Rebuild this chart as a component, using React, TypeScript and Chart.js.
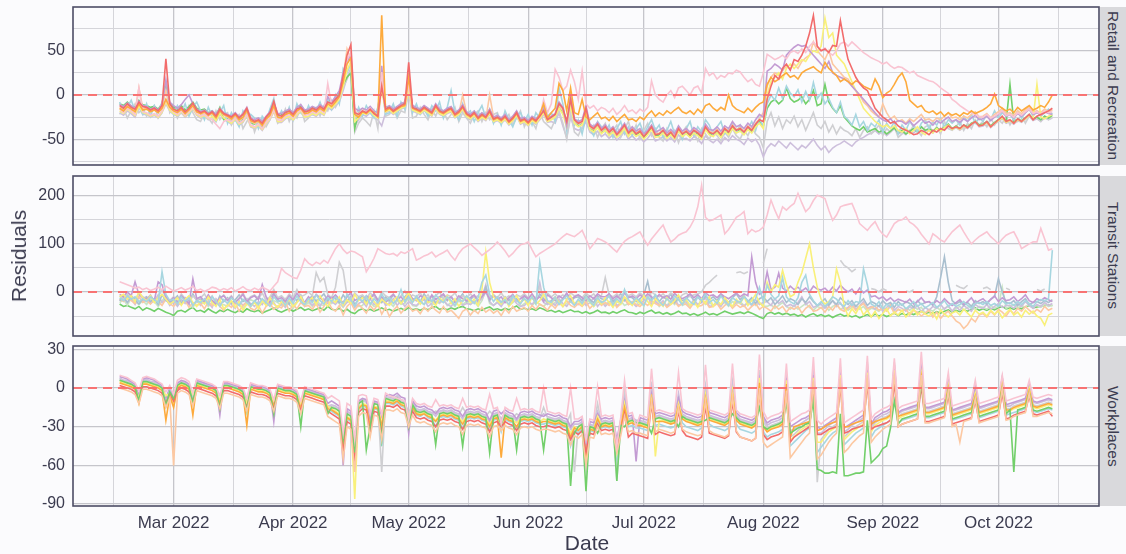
import React, { useEffect, useRef } from "react";
import { Chart, registerables } from "chart.js";
Chart.register(...registerables);

// Day index 0 = 2022-02-15 (daily data through 2022-10-15)
const N_DAYS = 243;
const DAY_INDEX = Array.from({ length: N_DAYS }, (_, i) => i);
const X_MIN = -12.1;
const X_MAX = 254.1;
const MONTH_DAYS = [14, 45, 75, 106, 136, 167, 198, 228];
const MONTH_LABELS = ["Mar 2022", "Apr 2022", "May 2022", "Jun 2022", "Jul 2022", "Aug 2022", "Sep 2022", "Oct 2022"];
const MINOR_DAYS = [-1.5, 29.5, 60, 90.5, 121, 151.5, 182.5, 213, 243.5];

const COLORS = {
  red: "#f26b6b",
  orange: "#fdaa3c",
  green: "#72cf6a",
  purple: "#c39bd3",
  pink: "#f9c4d2",
  lightblue: "#a7d6e0",
  yellow: "#f9f07a",
  peach: "#fcc8a2",
  gray: "#cfcfd2",
  lavender: "#cdbfdc",
  cadet: "#a9bfcf",
  lightgreen: "#c9e5c4",
};

// ---------------- Retail and Recreation ----------------
const RETAIL_RED = [
  -12,-15,-10,-14,-16,-8,-13, -14,-17,-15,-18,-12,41,-10, -16,-18,-14,-19,-15,-9,-17, -20,-18,-22,-19,-24,-16,-21,
  -23,-25,-21,-26,-22,-15,-27, -30,-28,-32,-25,-20,-7,-22, -24,-20,-18,-22,-16,-14,-19, -18,-15,-17,-13,-16,-8,-10,
  -5,0,22,45,57,-20,-22, -18,-20,-16,-21,-24,10,-16, -14,-18,-15,-12,-10,37,-14, -16,-18,-14,-17,-20,-12,-18,
  -20,-17,-15,-22,-19,-13,-21, -24,-20,-26,-22,-25,-18,-27, -25,-28,-24,-30,-26,-20,-29, -27,-31,-26,-29,-24,-18,-28,
  -25,-22,-10,-15,-30,-5,-28, -32,-30,-15,-35,-38,-33,-40, -36,-42,-38,-45,-40,-34,-43, -39,-44,-41,-47,-42,-36,-45,
  -44,-40,-46,-42,-48,-38,-44, -41,-45,-40,-43,-47,-36,-42, -44,-40,-45,-38,-42,-35,-40, -38,-42,-36,-40,-33,-28,-30,
  -5,10,22,18,30,35,28, 40,38,45,55,70,90,55, 50,52,48,56,55,84,60, 40,30,20,13,8,5,-5,
  -15,-20,-25,-28,-32,-30,-35, -38,-40,-42,-45,-44,-40,-42, -45,-40,-42,-38,-40,-35,-38, -36,-38,-34,-37,-33,-30,-35,
  -34,-30,-36,-32,-28,-24,-30, -28,-32,-27,-30,-26,-22,-28, -24,-22,-20,-18,-15,
];
const RETAIL_ORANGE = [
  -15,-18,-13,-16,-19,-10,-17, -16,-19,-17,-20,-15,-5,-14, -18,-20,-16,-21,-17,-12,-19, -21,-19,-23,-20,-26,-18,-22,
  -24,-27,-22,-28,-25,-17,-29, -31,-29,-34,-27,-23,-12,-25, -26,-22,-20,-24,-18,-15,-21, -20,-17,-19,-15,-18,-10,-13,
  -8,-2,15,35,42,-22,-25, -19,-21,-17,-20,-25,90,-18, -15,-19,-16,-13,-12,20,-15, -17,-19,-15,-18,-21,-13,-19,
  -21,-18,-16,-23,-20,-14,-22, -25,-21,-27,-23,-26,-19,-28, -26,-29,-25,-31,-27,-21,-30, -28,-32,-27,-30,-22,-10,-26,
  -20,-15,13,5,-18,8,-20, -22,-5,-25,-28,-24,-20,-27, -25,-29,-24,-30,-26,-22,-28, -27,-30,-25,-28,-22,-18,-24,
  -20,-23,-18,-21,-17,-14,-19, -21,-18,-22,-16,-20,-12,-10, -15,-18,-14,-17,0,-12,-16, -18,-20,-15,-19,-14,-10,-8,
  12,20,15,18,22,25,20, 22,18,25,28,30,32,28, 25,37,30,26,22,15,18, 15,12,16,14,10,8,6,
  18,10,-3,2,5,12,20, 25,15,-6,-10,-14,-12,-18, -20,-18,-22,-19,-24,-20,-23, -21,-24,-20,-22,-18,-21,-19,
  -17,-14,-10,1,-12,-15,-18, -16,-20,-14,-18,-15,-12,-17, -15,-12,-14,-8,0,
];
const RETAIL_GREEN = [
  -10,-12,-8,-13,-14,-6,-11, -12,-14,-13,-16,-10,8,-9, -14,-16,-12,-17,-13,-8,-15, -17,-16,-20,-18,-23,-14,-28,
  -26,-29,-24,-30,-27,-19,-31, -33,-30,-36,-28,-22,-14,-24, -22,-19,-17,-21,-15,-12,-18, -17,-14,-16,-12,-15,-5,-9,
  -4,2,12,20,25,-38,-20, -16,-18,-14,-19,-22,15,-15, -13,-17,-14,-11,-9,12,-13, -15,-17,-13,-16,-19,-11,-17,
  -19,-16,-14,-21,-18,-12,-20, -23,-19,-25,-21,-24,-17,-26, -24,-27,-23,-29,-25,-19,-28, -26,-30,-25,-28,-23,-16,-27,
  -26,-24,-14,-20,-32,-10,-30, -34,-32,-20,-37,-40,-35,-42, -38,-44,-40,-46,-42,-36,-45, -40,-45,-42,-48,-43,-37,-46,
  -45,-41,-47,-43,-49,-39,-45, -42,-46,-41,-44,-48,-37,-43, -45,-41,-46,-39,-43,-36,-41, -39,-43,-37,-41,-34,-30,-35,
  -15,-8,-5,-10,-6,8,-4, -8,-6,-2,-10,-5,5,-12, -10,12,-8,-15,-20,-12,-25, -30,-35,-38,-40,-36,-42,-40,
  -38,-42,-40,-44,-41,-37,-43, -40,-44,-41,-38,-42,-36,-40, -38,-41,-37,-40,-36,-33,-38, -35,-38,-34,-36,-32,-30,-34,
  -33,-30,-35,-31,-28,-25,-30, 12,-31,-27,-29,-26,-22,-27, -25,-28,-24,-26,-23,
];
const RETAIL_PURPLE = [
  -11,-13,-9,-12,-15,-7,-12, -13,-16,-14,-17,-11,17,-8, -12,-15,-11,-5,0,-10,-16, -19,-17,-21,-18,-22,-15,-20,
  -22,-24,-20,-25,-21,-14,-26, -28,-26,-30,-24,-19,-9,-21, -21,-18,-16,-20,-14,-11,-17, -16,-13,-15,-11,-14,-2,-8,
  -2,5,25,38,45,-15,-18, -15,-17,-13,-18,-20,33,-14, -12,-16,-13,-10,-8,15,-12, -14,-16,-12,-15,-18,-10,-16,
  -18,-15,-13,-20,-17,-11,-19, -22,-18,-24,-20,-23,-16,-25, -23,-26,-22,-28,-24,-18,-27, -25,-29,-24,-27,-22,-15,-26,
  -24,-21,-8,-14,-35,-3,-27, -30,-28,-12,-33,-36,-31,-38, -34,-40,-36,-43,-38,-32,-41, -36,-41,-38,-44,-40,-34,-42,
  -40,-37,-43,-39,-44,-35,-41, -38,-42,-37,-40,-44,-33,-39, -40,-36,-41,-35,-38,-30,-36, -34,-38,-32,-36,-28,-22,-25,
  27,30,35,32,28,45,50, 54,57,55,56,50,45,40, 35,30,38,25,22,20,18, 15,10,5,0,-5,-10,-15,
  -20,-25,-28,-30,-27,-32,-29, -30,-33,-29,-35,-31,-27,-32, -30,-34,-29,-32,-28,-25,-30, -28,-31,-27,-30,-26,-23,-28,
  -27,-24,-29,-25,-22,-18,-24, -22,-26,-21,-24,-20,-16,-22, -20,-23,-19,-21,-22,
];
const RETAIL_PINK = [
  -16,-20,-15,-18,-22,8,-19, -20,-23,-21,-24,-18,-5,-15, -19,-22,-18,-23,-19,-14,-21, -24,-22,-26,-28,-33,-38,-30,
  -28,-30,-26,-32,-29,-22,-34, -36,-33,-38,-31,-26,-17,-28, -29,-24,-22,-26,-20,-17,-23, -22,-19,-21,-17,-20,13,-12,
  -7,-3,18,40,48,-18,-21, -17,-19,-15,-20,-23,26,-17, -15,-19,-16,-13,-11,10,-15, -17,-19,-15,-18,-21,-13,-19,
  -21,-18,-16,-23,-20,-14,-22, -25,-21,-27,-23,-26,-19,-28, -26,-29,-25,-31,-27,-21,-30, -28,-32,-27,-30,-25,-5,-20,
  -10,29,20,5,10,28,15, -5,27,-10,-15,-12,-18,-14, -16,-20,-15,-22,-18,-12,-19, -17,-21,-16,-19,-14,16,0,
  -5,-8,0,5,-3,8,10, 5,0,8,10,2,30,22, 25,18,22,20,25,24,28, 26,20,15,18,12,10,25,
  46,43,40,42,45,41,48, 50,47,52,48,55,60,55, 50,53,48,45,50,58,60, 55,60,56,52,48,45,42,
  40,38,35,37,33,30,32, 31,28,25,27,22,20,18, 16,15,12,8,5,2,-5, -8,-12,-15,-18,-20,-22,-24,
  -25,-22,-26,-24,-21,-18,-23, -22,-25,-20,-23,-19,-16,-21, -19,-22,-18,-20,-19,
];
const RETAIL_YELLOW = [
  -18,-21,-16,-19,-23,-12,-20, -21,-24,-22,-25,-19,-8,-17, -21,-23,-19,-24,-20,-15,-22, -25,-23,-27,-24,-29,-21,-26,
  -29,-32,-27,-33,-30,-23,-35, -37,-34,-39,-32,-27,-18,-30, -30,-26,-24,-28,-22,-18,-25, -24,-21,-23,-19,-22,-12,-15,
  -10,-5,10,28,38,-30,-26, -20,-22,-18,-23,-26,8,-19, -17,-21,-18,-15,-13,5,-17, -19,-21,-17,-20,-23,-15,-21,
  -23,-20,-18,-25,-22,-16,-24, -27,-23,-29,-25,-28,-21,-30, -28,-31,-27,-33,-29,-23,-32, -30,-34,-29,-32,-27,-20,-30,
  -28,-25,-15,-22,-36,-12,-32, -36,-34,-22,-39,-42,-37,-44, -40,-46,-42,-48,-44,-38,-47, -42,-47,-44,-50,-45,-39,-48,
  -47,-43,-49,-45,-50,-41,-47, -44,-48,-43,-46,-50,-39,-45, -47,-43,-48,-41,-45,-38,-43, -41,-45,-39,-43,-36,-32,-38,
  0,15,20,25,18,30,35, 30,35,40,38,45,50,48, 55,87,65,70,45,40,35, 25,15,5,-5,-15,-20,-25,
  -30,-33,-36,-34,-38,-35,-40, -42,-38,-44,-40,-36,-42,-45, -40,-43,-38,-41,-37,-34,-39, -36,-39,-35,-37,-33,-30,-35,
  -34,-31,-36,-32,-29,-26,-31, -29,-32,-28,-30,-27,-23,-27, 12,-25,-27,-24,-22,
];
const RETAIL_PEACH = [
  -14,-17,-12,-15,-18,8,-15, -15,-18,-16,-19,-13,5,-12, -17,-19,-15,-20,-16,-11,-18, -22,-20,-24,-21,-25,-17,-23,
  -25,-28,-23,-29,-26,-18,-30, -32,-30,-35,-28,-24,-13,-26, -27,-23,-21,-25,-19,-16,-22, -21,-18,-20,-16,-19,-9,-11,
  -6,0,20,52,40,-25,-23, -18,-20,-16,-21,-24,18,-17, -16,-20,-17,-14,-12,8,-16, -18,-20,-16,-19,-22,-14,-20,
  -22,-19,-17,-24,-21,0,-20, -26,-22,-28,-24,-27,0,-25, -27,-30,-26,-32,-28,-22,-31, -29,-33,-28,-31,-26,-19,-29,
  -27,-24,-12,-18,-30,-8,-29, -33,-31,-17,-36,-39,-34,-41, -37,-43,-39,-46,-41,-35,-44, -38,-43,-40,-45,-41,-35,-44,
  -43,-39,-45,-41,-46,-37,-43, -40,-44,-39,-42,-46,-35,-41, -43,-39,-44,-37,-41,-34,-39, -37,-41,-35,-39,-32,-27,-20,
  10,20,25,22,28,32,30, 35,30,38,42,45,60,50, 45,40,50,35,30,25,20, 18,10,5,0,-8,-12,-18,
  -22,-25,-10,-20,-27,-24,-30, -28,-32,-27,-30,-26,-22,-28, -27,-30,-26,-28,-24,-20,-26, -25,-28,-24,-26,-22,-19,-25,
  -24,-21,-26,-22,-19,-15,-21, -20,-23,-18,-21,-17,-13,-19, -18,-20,-16,-19,-17,
];
const RETAIL_LAVENDER = [
  -20,-23,-18,-21,-25,-14,-22, -22,-25,-23,-26,-20,-10,-18, -22,-24,-20,-25,-21,-16,-23, -26,-24,-28,-25,-30,-22,-27,
  -30,-33,-28,-34,-31,-24,-36, -38,-35,-40,-33,-28,-19,-31, -31,-27,-25,-29,-23,-19,-26, -25,-22,-24,-20,-23,-14,-17,
  -12,-8,5,20,30,-35,-28, -22,-24,-20,-25,-28,-35,-20, -18,-22,-19,-16,-14,2,-18, -20,-22,-18,-21,-24,-16,-22,
  -24,-21,-19,-26,-23,-17,-25, -28,-24,-30,-26,-29,-22,-31, -29,-32,-28,-34,-30,-24,-33, -31,-35,-30,-33,-28,-22,-31,
  -30,-32,-20,-35,-48,-25,-38, -40,-38,-30,-42,-45,-41,-47, -44,-49,-45,-51,-47,-41,-50, -46,-51,-48,-53,-49,-43,-52,
  -50,-47,-52,-48,-53,-45,-50, -49,-52,-47,-50,-55,-46,-51, -54,-50,-55,-48,-52,-46,-50, -52,-56,-49,-53,-50,-57,-70,
  -60,-55,-58,-52,-56,-60,-54, -58,-62,-57,-60,-55,-50,-57, -62,-58,-65,-60,-57,-55,-52, -55,-58,-53,-50,-48,-45,-43,
  -40,-44,-41,-46,-42,-38,-44, -42,-45,-40,-43,-39,-36,-41, -40,-43,-38,-41,-37,-34,-39, -37,-40,-36,-38,-34,-31,-36,
  -35,-32,-37,-33,-30,-27,-32, -30,-33,-29,-31,-28,-24,-29, -27,-30,-26,-28,-26,
];
const RETAIL_LIGHTBLUE = [
  -8,-20,-14,-6,-18,-12,-22, -10,-24,-12,-20,-8,6,-16, -22,-12,-20,-10,-24,-14,-8, -18,-28,-14,-24,-30,-20,-12,
  -32,-20,-28,-36,-18,-26,-22, -26,-38,-24,-30,-16,-4,-28, -18,-26,-14,-28,-10,-20,-24, -12,-22,-18,-8,-20,-4,-16,
  0,-10,30,25,35,-28,-14, -24,-12,-20,-26,-14,12,-22, -20,-10,-24,-8,-16,18,-20, -10,-22,-16,-24,-12,-18,-8,
  -26,-14,5,-20,-28,-10,-22, -18,-30,-20,-12,-26,-16,-32, -22,-34,-18,-28,-36,-24,-20, -30,-22,-34,-20,-26,-12,-24,
  -20,-30,8,-10,-40,0,-34, -28,-44,-24,-38,-46,-30,-36, -42,-34,-48,-38,-30,-44,-36, -46,-38,-32,-44,-36,-28,-40,
  -34,-48,-40,-30,-44,-36,-50, -38,-30,-46,-36,-42,-28,-34, -46,-36,-30,-44,-38,-32,-42, -34,-44,-38,-30,-40,-26,-36,
  -10,0,-6,8,-4,10,2, -2,6,-8,4,-6,14,-4, 2,-10,-4,-14,-20,-8,-24, -28,-34,-22,-36,-30,-40,-32,
  -36,-28,-42,-32,-38,-30,-44, -34,-40,-30,-36,-42,-32,-28, -38,-30,-34,-26,-36,-28,-32, -28,-34,-24,-30,-22,-32,-26,
  -30,-22,-28,-18,-26,-20,-24, -22,-28,-18,-26,-20,-16,-24, -18,-24,-20,-16,-22,
];
const RETAIL_GRAY = [
  -22,-14,-26,-18,-10,-20,-16, -24,-18,-12,-26,-20,14,-20, -14,-26,-18,-22,-12,-20,-28, -30,-20,-26,-32,-18,-28,-22,
  -20,-34,-26,-22,-38,-30,-24, -42,-30,-26,-36,-28,-10,-32, -28,-16,-30,-20,-26,-12,-30, -26,-18,-14,-24,-12,-18,-6,
  -14,-6,8,18,28,-42,-32, -26,-30,-35,-18,-38,20,-24, -22,-14,-26,-18,-20,4,-26, -24,-14,-22,-28,-16,-24,-14,
  -18,-28,-22,-14,-30,-20,-26, -32,-22,-18,-30,-20,-28,-22, -20,-32,-28,-22,-34,-26,-18, -36,-26,-30,-38,-20,-30,-34,
  -38,-28,-18,-32,-50,-20,-42, -46,-36,-28,-40,-34,-48,-38, -32,-46,-40,-34,-48,-38,-30, -44,-34,-50,-40,-32,-46,-38,
  -48,-52,-38,-46,-40,-54,-42, -36,-48,-42,-52,-38,-44,-50, -40,-46,-52,-42,-48,-38,-46, -50,-40,-46,-36,-44,-48,-60,
  -30,-20,-35,-25,-38,-28,-32, -24,-36,-28,-40,-30,-20,-34, -38,-30,-42,-34,-44,-36,-40, -42,-46,-38,-48,-40,-36,-44,
  -40,-34,-46,-38,-42,-36,-48, -44,-38,-42,-34,-40,-46,-36, -34,-42,-36,-44,-30,-38,-40, -36,-30,-40,-32,-38,-28,-34,
  -30,-36,-26,-34,-28,-32,-24, -34,-26,-30,-22,-32,-24,-28, -26,-30,-24,-28,-25,
];

// ---------------- Transit Stations ----------------
const TRANSIT_PINK = [
  21,18,15,12,8,10,5, 8,3,6,10,4,12,7, 2,5,9,4,7,12,3, 6,1,5,10,8,3,7,
  4,9,2,6,11,5,3, 8,4,10,6,2,12,21, 49,40,35,30,28,45,69, 60,55,62,58,66,60,75,
  90,100,88,80,85,83,78, 73,42,55,70,90,85,80, 78,80,75,83,80,85,90, 66,70,75,78,83,73,78,
  82,87,75,66,80,90,95, 100,92,85,76,82,88,95, 104,95,85,73,80,90,98, 100,104,88,73,80,85,90,
  95,100,108,115,121,118,115, 121,128,110,90,100,111,108, 104,98,90,83,95,105,111, 115,120,125,110,97,110,120,
  130,139,120,104,110,118,122, 125,135,150,177,222,155,148, 150,155,160,121,130,142,155, 160,167,121,130,125,128,135,
  160,191,170,152,177,170,178, 184,205,185,167,175,190,201, 198,194,170,149,160,177,180, 182,184,165,142,135,128,138,
  146,130,120,114,128,142,148, 150,156,145,140,132,120,110, 100,121,115,108,104,115,125, 132,139,125,112,100,108,115,
  120,125,115,108,100,110,118, 122,125,110,90,95,100,104, 104,132,110,87,90,
];
const TRANSIT_GREEN = [
  -25,-30,-28,-32,-35,-30,-38, -33,-36,-40,-34,-38,-42,-45, -49,-40,-38,-42,-36,-32,-40, -38,-42,-35,-40,-44,-38,-41,
  -36,-40,-43,-38,-42,-35,-39, -41,-38,-44,-40,-37,-33,-39, -42,-38,-35,-40,-36,-32,-38, -35,-39,-36,-33,-38,-30,-36,
  -38,-34,-40,-36,-42,-45,-38, -35,-39,-36,-40,-37,-33,-38, -36,-40,-37,-34,-38,-32,-37, -35,-38,-34,-37,-33,-30,-36,
  -34,-37,-33,-36,-32,-30,-35, -36,-39,-35,-38,-34,-31,-37, -35,-38,-34,-37,-33,-29,-36, -34,-37,-35,-38,-33,-36,-40,
  -38,-42,-39,-43,-40,-37,-41, -40,-44,-41,-45,-42,-38,-43, -42,-45,-41,-44,-40,-37,-42, -43,-46,-42,-45,-41,-38,-44,
  -42,-46,-43,-47,-44,-40,-45, -44,-48,-45,-49,-46,-42,-47, -45,-48,-44,-40,-43,-46,-44, -42,-45,-41,-44,-48,-52,-55,
  -45,-42,-46,-43,-47,-44,-48, -46,-50,-47,-52,-48,-45,-50, -47,-51,-48,-53,-49,-46,-50, -48,-52,-49,-54,-50,-47,-51,
  -46,-50,-47,-51,-48,-44,-49, -45,-48,-44,-47,-43,-40,-45, -42,-45,-41,-44,-40,-37,-42, -38,-41,-37,-40,-36,-33,-38,
  -35,-38,-34,-37,-33,-30,-35, -33,-36,-32,-35,-31,-28,-33, -31,-30,-28,-27,-28,
];
const TRANSIT_PEACH = [
  -15,-20,-12,-18,-24,-10,-22, -18,-25,-14,-20,-28,-15,-24, -30,-20,-26,-18,-32,-22,-28, -24,-35,-20,-28,-18,-30,-38,
  -26,-32,-22,-40,-28,-20,-34, -38,-28,-44,-30,-24,-36,-29, -33,-20,-40,-26,-35,-22,-30, -28,-36,-24,-42,-30,-18,-34,
  -40,-28,-48,-30,-22,-38,-26, -34,-44,-28,-38,-25,-46,-32, -51,-38,-30,-44,-35,-28,-40, -36,-45,-32,-40,-30,-38,-44,
  -30,-42,-38,-46,-55,-40,-35, -48,-38,-45,-32,-42,-36,-44, -38,-49,-35,-44,-30,-40,-36, -32,-40,-28,-36,-25,-30,-38,
  -26,-34,-22,-30,-18,-28,-32, -24,-30,-20,-34,-26,-16,-28, -22,-28,-18,-32,-24,-14,-26, -20,-26,-30,-22,-28,-18,-24,
  -28,-22,-32,-26,-20,-30,-24, -26,-34,-22,-30,-28,-20,-32, -30,-24,-36,-28,-22,-34,-26, -32,-28,-38,-30,-24,-36,-30,
  -34,-40,-28,-36,-30,-42,-32, -36,-30,-44,-34,-28,-40,-38, -32,-42,-30,-38,-26,-36,-40, -34,-28,-38,-30,-24,-36,-32,
  -30,-38,-34,-40,-28,-45,-36, -40,-35,-48,-38,-42,-50,-44, -38,-52,-42,-55,-46,-40,-50, -60,-65,-76,-68,-55,-62,-48,
  -45,-52,-40,-48,-36,-42,-50, -38,-45,-34,-40,-30,-38,-44, -36,-42,-30,-38,-34,
];
const TRANSIT_YELLOW = [
  -10,-5,-15,-8,-20,0,-12, -18,-8,-22,-12,-5,-15,-25, -20,-12,-28,-15,-8,-22,-30, -18,-25,-10,-22,-30,-15,-35,
  -28,-18,-32,-20,-38,-25,-30, -22,-34,-18,-28,-12,-25,-32, -20,-28,-15,-30,-22,-10,-25, -18,-12,-26,-8,-20,-30,-15,
  -22,-10,-28,-16,-24,-5,-18, -12,-25,-8,-20,-30,-15,-22, -28,-18,-10,-24,-14,-2,-20, -15,-25,-10,-22,-18,-28,-12,
  -20,-8,-24,-14,-30,-18,-10, -22,-15,-28,5,83,20,-10, -18,-25,-12,-30,-20,-8,-22, -15,-28,-10,-25,-18,-5,-20,
  -25,-12,-22,-30,-15,-8,-24, -18,-28,-10,-22,-30,-16,-25, -12,-22,-32,-18,-26,-10,-20, -28,-15,-25,-8,-20,-30,-14,
  -22,-30,-12,-26,-18,-6,-24, -16,-28,-20,-32,-14,-24,-10, -30,-18,-26,-12,-22,-30,-15, -24,-10,-28,-18,-5,-22,-30,
  20,0,15,10,45,15,-10, -5,20,40,70,100,50,10, -15,-25,-20,-10,48,20,-30, -50,-35,-45,-30,-48,-38,-52,
  -40,-55,-45,-35,-50,-42,-48, -38,-52,-44,-36,-48,-40,-46, -50,-42,-56,-38,-46,-52,-44, -40,-48,-36,-44,-52,-38,-46,
  -42,-50,-38,-46,-40,-54,-44, -36,-48,-42,-52,-38,-46,-40, -50,-55,-69,-48,-44,
];
const TRANSIT_LIGHTBLUE = [
  -12,-18,-8,-15,-10,-20,-14, -20,-10,-16,-22,42,-5,-18, -15,-25,-10,-20,-12,-28,-18, -22,-14,-26,-10,-20,-30,-16,
  -24,-12,-20,-28,-15,-22,-30, -18,-26,-14,-22,-30,-10,-20, -16,-28,-12,-24,-8,-20,-26, -14,-22,-6,-18,-25,-12,-20,
  -10,-18,-24,-5,-16,-30,-12, -20,-8,-26,-14,-22,-4,-18, -12,-24,-16,5,-20,-10,-22, -8,-18,-26,-12,-20,-6,-16,
  -22,-10,-18,-28,-14,-20,-8, -16,-24,-12,20,35,-5,-20, -10,-22,-16,-26,-8,-18,-24, -14,-20,-10,-25,62,10,-18,
  -22,-12,-26,-16,-8,-20,-28, -15,-24,-10,-20,-28,-12,-22, -18,-8,-26,-14,-22,5,-16, -24,-12,-20,-28,-10,-18,-6,
  -20,-28,-14,-22,-8,-16,-26, -12,-20,-26,-10,-18,-4,-22, -16,-24,-8,-20,-28,-12,-18, -22,-10,-18,-26,-14,10,-20,
  14,-5,-15,-8,30,-10,-20, -25,-12,20,35,-5,-18,-28, -20,-30,-22,-10,-15,-25,-30, -18,-28,-20,-22,48,15,-25,
  -30,-20,-35,-25,-32,-22,-28, -25,-35,-28,-20,-30,-24,-33, -28,-22,-32,-26,-18,-30,-24, -30,-26,-20,-28,-34,-24,-22,
  -26,-20,-28,-24,-30,-18,-25, -22,-28,-20,-26,-18,-24,-30, -20,-16,-18,-14,87,
];
const TRANSIT_PURPLE = [
  -5,-10,0,-8,21,-5,-12, -15,-8,-18,21,15,-10,-20, -12,-22,-8,-15,-25,27,-14, -10,-20,-6,-18,-25,-12,-8,
  -18,-10,-22,-14,-5,-20,-12, -8,-16,15,-10,-22,-5,-15, -12,-20,-8,-16,-3,-14,-22, -10,-18,-5,-12,-20,-8,-14,
  -6,-15,-22,-10,-2,-18,-12, -20,-8,-14,-4,-18,-10,-22, -12,-5,-16,-10,-20,-2,-14, -18,-8,-12,-22,-6,-15,-10,
  -4,-16,-10,-20,-8,-14,-18, -12,-6,-18,-10,0,-15,-8, -16,-10,-22,-12,-5,-18,-14, -8,-14,-4,-16,-10,-20,-6,
  -12,-18,-8,-14,-2,-16,-10, -6,-12,-18,-8,-14,-4,-10, -10,-4,-14,-8,-16,-2,-12, -8,-14,-6,-12,-4,-10,-16,
  -5,-12,-8,-15,-3,-10,-14, -10,-4,-12,-6,-14,-2,-8, -6,-12,-4,-10,-14,-8,-2, -10,-4,-8,73,20,-5,0,
  42,5,10,39,8,2,12, 5,10,2,8,0,12,6, 4,8,0,10,2,14,6, 0,6,-4,8,-2,4,-10,
  -8,-14,-10,-18,-12,-20,-15, -18,-22,-15,-25,-20,-12,-22, -20,-26,-18,-24,-14,-22,-28, -22,-16,-26,-20,-12,-24,-18,
  -14,-22,-16,-8,-20,-12,-18, -16,-10,-20,-14,-6,-18,-22, -14,-18,-12,-16,-20,
];
const TRANSIT_GRAY = [
  -8,-14,-5,-12,-18,-2,-10, -15,-6,-20,-10,5,-12,-18, -10,-20,-4,-14,-22,-8,-16, -12,-4,-18,-8,-22,-14,-6,
  -16,-8,-20,-12,-2,-18,-10, -6,-14,-2,-18,-10,5,-12, -8,-16,-4,-12,5,-10,-6, 0,-8,40,21,30,-5,-12,
  10,62,45,-8,-15,-2,-10, -6,-14,-2,-10,-18,0,-8, -12,-4,-16,-8,2,-14,-6, -10,-2,-14,-6,-18,-8,0,
  -14,-6,-10,-2,-16,-8,-12, -4,-12,-8,-16,0,-10,-6, -12,-2,-14,-8,-18,-6,-10, -4,-12,-6,-14,10,-8,-2,
  -10,-4,-12,-6,-16,-2,-8, -6,-12,-2,-10,-4,-14,-8, 30,-6,-10,-4,-12,0,-8, -4,-10,-2,-8,-14,0,-6,
  -10,-4,-12,-2,-8,-14,-6, -2,-10,-6,-4,0,14,20, 28,35,null,null,null,null,40, 42,38,42,null,null,null,60,
  90,null,null,null,null,null,null, null,null,null,null,null,null,null, null,null,null,null,null,66,55, 50,42,48,null,null,null,7,
  5,0,7,3,null,null,null, null,2,0,5,null,null,null, null,null,null,null,null,null,null, 14,10,7,14,null,null,null,
  7,10,5,null,null,null,8, 4,null,null,null,null,null,null, 5,2,6,null,null,
];
const TRANSIT_CADET = [
  -18,-12,-22,-8,-16,-25,-14, -10,-20,-14,-26,-6,-18,-22, -16,-8,-24,-12,-20,-4,-18, -14,-22,-10,-18,-26,-8,-20,
  -12,-24,-16,-6,-20,-14,-28, -20,-10,-18,-24,-12,-2,-16, -22,-14,-26,-10,-18,-6,-24, -16,-8,-20,-12,-4,-18,-10,
  -14,-22,-6,-18,-10,-26,-16, -8,-20,-12,-4,-16,-22,-10, -18,-6,-14,-22,-10,-2,-16, -12,-20,-4,-16,-8,-24,-14,
  -6,-18,-10,-22,-14,-4,-20, -16,-8,-20,-12,10,-18,-6, -14,-22,-10,-18,-6,-16,-24, -8,-16,-12,-20,-4,-14,-22,
  -18,-10,-24,-14,-6,-20,-12, -10,-18,-6,-16,-22,-8,-14, -16,-8,-20,-12,-4,-18,-10, -12,-20,-14,-6,22,-16,-8,
  -20,-10,-16,-4,-22,-12,-18, -14,-6,-18,-10,-20,-8,-16, -10,-18,-6,-14,-22,-12,-4, -16,-8,-20,-12,-24,-14,-10,
  -20,-12,-26,-18,-8,-22,-14, -18,-26,-14,-22,-10,-20,-28, -22,-14,-28,-18,-26,-12,-20, -26,-18,-30,-22,-14,-28,-20,
  -24,-30,-18,-26,-22,-32,-20, -28,-20,-24,-32,-18,-26,-22, -20,-28,-10,30,73,20,-18, -25,-20,-28,-22,-30,-18,-24,
  -20,-26,-15,-10,28,0,-22, -24,-18,-28,-20,-14,-26,-22, -20,-24,-18,-22,-16,
];
const TRANSIT_LAVENDER = [
  -18,-8,-22,-14,-26,-10,-20, -12,-24,-18,-6,-22,-14,-28, -20,-30,-16,-24,-12,-26,-18, -28,-16,-22,-32,-14,-24,-20,
  -14,-26,-34,-18,-28,-20,-24, -30,-20,-26,-14,-28,-22,-34, -24,-32,-18,-28,-20,-12,-26, -18,-28,-22,-30,-14,-24,-20,
  -26,-16,-30,-22,-18,-32,-24, -20,-30,-14,-26,-22,-12,-28, -24,-14,-28,-18,-30,-20,-26, -28,-20,-16,-30,-24,-14,-22,
  -18,-26,-30,-20,-14,-28,-24, -26,-18,-24,-10,15,-20,-28, -22,-30,-18,-26,-14,-24,-30, -28,-20,-26,-16,20,-22,-26,
  -20,-28,-14,-24,-30,-18,-24, -26,-16,-28,-22,-12,-30,-20, -30,-22,-16,-28,-24,-14,-26, -22,-30,-24,-18,-8,-26,-20,
  -26,-18,-30,-22,-14,-28,-24, -20,-28,-16,-26,-22,-12,-30, -28,-22,-30,-18,-24,-32,-20, -24,-30,-20,-28,-16,-26,-22,
  -20,-28,-14,-24,-18,-30,-26, -30,-22,-10,-26,-20,-32,-28, -26,-34,-24,-18,-30,-22,-36, -32,-24,-36,-28,-20,-34,-30,
  -36,-28,-40,-32,-26,-38,-30, -34,-40,-30,-36,-28,-42,-32, -38,-30,-34,-26,-36,-28,-40, -30,-38,-28,-34,-40,-26,-32,
  -34,-26,-36,-30,-24,-32,-28, -28,-34,-24,-30,-20,-28,-34, -26,-30,-22,-28,-24,
];
const TRANSIT_LIGHTGREEN = [
  -22,-16,-28,-12,-20,-26,-18, -26,-14,-20,-30,-18,-10,-24, -16,-28,-22,-14,-26,-32,-20, -24,-18,-30,-22,-16,-28,-26,
  -30,-22,-18,-28,-34,-24,-16, -20,-30,-24,-16,-28,-18,-22, -28,-18,-26,-34,-22,-14,-30, -22,-30,-16,-26,-28,-20,-24,
  -18,-24,-32,-20,-14,-26,-30, -28,-16,-22,-30,-26,-18,-14, -22,-30,-18,-26,-24,-12,-28, -30,-22,-26,-16,-28,-20,-24,
  -14,-28,-22,-30,-18,-26,-20, -26,-20,-30,-18,5,-24,-28, -20,-26,-16,-28,-22,-14,-30, -24,-18,-28,-20,-26,-30,-22,
  -28,-22,-18,-30,-24,-16,-26, -18,-28,-24,-14,-30,-22,-20, -26,-20,-30,-22,-18,-28,-24, -22,-28,-16,-30,-10,-24,-18,
  -30,-22,-28,-18,-26,-14,-28, -24,-30,-20,-28,-16,-26,-22, -28,-18,-26,-22,-30,-20,-24, -20,-28,-24,-16,-28,-22,-30,
  -30,-26,-34,-28,-22,-30,-36, -28,-36,-30,-24,-32,-38,-30, -34,-28,-38,-30,-26,-36,-32, -38,-32,-28,-36,-30,-40,-34,
  -36,-40,-32,-38,-30,-42,-36, -40,-34,-38,-30,-36,-32,-44, -36,-40,-32,-38,-34,-30,-40, -34,-30,-38,-32,-28,-36,-30,
  -32,-36,-28,-34,-30,10,-34, -30,-26,-34,-28,-32,-24,-30, -28,-32,-26,-30,-28,
];

// ---------------- Workplaces ----------------
const WORK_PINK = [
  10,9,8,6,4,-2,8, 9,8,7,5,3,-3,2, -5,6,8,7,5,-4,7, 6,5,4,3,1,-6,5,
  5,4,3,2,0,-8,4, 3,2,2,1,-1,-9,3, 2,1,1,0,-2,-10,1, 0,-1,-2,-3,-4,-8,-6,
  -8,-10,-35,-12,-14,-40,-6, -5,-6,-20,-8,-9,-20,-4, -6,-7,-8,-9,-10,-25,-8, -12,-13,-12,-14,-15,-9,-14,
  -13,-14,-13,-15,-16,-8,-15, -14,-15,-14,-16,-17,-5,-16, -15,-28,-15,-17,-18,-8,-17, -16,-17,-16,-18,-19,0,-18,
  -19,-20,-19,-21,-22,0,-24, -24,-22,-40,-24,-25,1,-22, -21,-22,-21,-45,-23,6,-20, -19,-30,-21,-22,-23,15,-18,
  -17,-18,-19,-20,-19,12,-16, -18,-19,-20,-21,-20,18,-17, -18,-19,-20,-21,-19,19,-17, -20,-21,-22,-23,-21,26,-18,
  -24,-22,-21,-20,-18,19,-26, -24,-22,-20,-19,-17,24,-25, -28,-25,-23,-21,-19,23,-27, -25,-23,-21,-19,-17,25,-24,
  -20,-18,-16,-15,-13,23,-16, -14,-13,-12,-11,-10,28,-12, -12,-11,-10,-9,-8,12,-14, -13,-12,-11,-10,-9,6,-12,
  -11,-10,-9,-8,-7,10,-10, -9,-8,-7,-6,-5,6,-7, -8,-7,-6,-5,-6,
];
const WORK_PURPLE = [
  9,8,7,5,3,-6,7, 8,7,6,4,2,-8,0, -8,4,6,5,3,-5,6, 5,4,3,2,0,-21,4,
  4,3,2,1,-1,-10,3, 2,1,1,0,-2,-26,2, 1,0,0,-1,-3,-12,0, -1,-2,-3,-4,-5,-12,-10,
  -12,-14,-60,-16,-18,-55,-10, -8,-9,-25,-10,-11,-22,-6, -5,-6,-4,-7,-8,-35,-10, -14,-15,-14,-16,-17,-20,-16,
  -15,-16,-15,-17,-18,-22,-17, -16,-17,-16,-18,-19,-25,-18, -17,-20,-17,-19,-20,-24,-19, -18,-19,-18,-20,-21,-22,-20,
  -21,-22,-21,-23,-24,-30,-26, -26,-24,-45,-26,-27,-20,-24, -23,-24,-23,-40,-25,-10,-22, -21,-57,-23,-24,-25,-5,-20,
  -19,-20,-21,-22,-21,-8,-18, -20,-21,-22,-23,-22,-5,-19, -20,-21,-22,-23,-21,-3,-19, -22,-23,-24,-25,-23,5,-22,
  -27,-25,-24,-23,-21,8,-30, -28,-26,-24,-23,-21,10,-30, -32,-29,-27,-25,-23,12,-31, -29,-27,-25,-23,-21,14,-28,
  -23,-21,-19,-18,-16,18,-19, -17,-16,-15,-14,-13,15,-15, -15,-14,-13,-12,-11,5,-17, -16,-15,-14,-13,-12,0,-15,
  -14,-13,-12,-11,-10,8,-13, -12,-11,-10,-9,-8,2,-10, -11,-10,-9,-8,-9,
];
const WORK_GRAY = [
  7,6,5,4,2,-10,6, 6,5,4,3,1,-10,-2, -10,3,5,4,2,-8,5, 4,3,2,1,-1,-12,3,
  3,2,1,0,-2,-14,2, 1,0,0,-1,-3,-12,1, 0,-1,-1,-2,-4,-14,-1, -2,-3,-4,-5,-6,-15,-14,
  -15,-17,-45,-19,-21,-60,-12, -10,-11,-30,-12,-13,-65,-8, -8,-9,-7,-10,-11,-20,-12, -17,-18,-17,-19,-20,-18,-19,
  -18,-19,-18,-20,-21,-15,-20, -19,-20,-19,-21,-22,-18,-21, -20,-24,-20,-22,-23,-20,-22, -21,-22,-21,-23,-24,-15,-23,
  -24,-25,-24,-26,-27,-20,-65, -30,-27,-50,-29,-30,-12,-27, -26,-27,-26,-72,-28,-2,-25, -24,-26,-26,-27,-28,5,-23,
  -22,-23,-24,-25,-24,-8,-21, -23,-24,-25,-26,-25,2,-22, -23,-24,-25,-26,-24,5,-22, -25,-26,-27,-28,-26,14,-26,
  -31,-29,-28,-27,-25,12,-38, -36,-33,-30,-28,-26,15,-73, -40,-36,-32,-30,-28,16,-38, -35,-32,-30,-28,-26,20,-32,
  -27,-25,-23,-22,-20,20,-22, -20,-19,-18,-17,-16,16,-18, -18,-17,-16,-15,-14,8,-20, -19,-18,-17,-16,-15,2,-18,
  -17,-16,-15,-14,-13,8,-16, -16,-14,-13,-12,-11,3,-13, -14,-13,-12,-11,-12,
];
const WORK_YELLOW = [
  5,4,3,2,0,-8,4, 4,3,2,1,-1,-6,-4, -12,1,3,2,0,-5,3, 2,1,0,-1,-3,-10,1,
  1,0,-1,-2,-4,-12,0, -1,-2,-2,-3,-5,-10,-1, -2,-3,-3,-4,-6,-12,-3, -4,-5,-6,-7,-8,-14,-16,
  -18,-20,-50,-22,-24,-86,-15, -12,-13,-35,-14,-15,-28,-10, -10,-11,-9,-12,-13,-22,-14, -19,-20,-19,-21,-22,-25,-21,
  -20,-21,-20,-22,-23,-26,-22, -21,-22,-21,-23,-24,-28,-23, -22,-30,-22,-24,-25,-27,-24, -23,-24,-23,-25,-26,-24,-25,
  -26,-27,-26,-28,-29,-35,-30, -32,-29,-55,-31,-32,-22,-29, -28,-29,-28,-50,-30,-12,-27, -26,-28,-28,-29,-30,-5,-53,
  -25,-25,-26,-27,-26,-12,-23, -25,-26,-27,-28,-27,-5,-24, -25,-26,-27,-28,-26,-2,-24, -27,-28,-29,-30,-28,8,-29,
  -33,-31,-30,-29,-27,6,-40, -38,-35,-32,-30,-28,8,-42, -42,-38,-34,-32,-30,10,-40, -37,-34,-32,-30,-28,12,-34,
  -29,-27,-25,-24,-22,14,-24, -22,-21,-20,-19,-18,10,-20, -20,-19,-18,-17,-16,2,-22, -21,-20,-19,-18,-17,-4,-20,
  -19,-18,-17,-16,-15,4,-18, -18,-16,-15,-14,-13,0,-15, -16,-15,-14,-13,-14,
];
const WORK_ORANGE = [
  4,3,2,1,-1,-12,3, 3,2,1,0,-2,-25,-6, -15,0,2,1,-1,-21,2, 1,0,-1,-2,-4,-12,0,
  0,-1,-2,-3,-5,-29,-1, -2,-3,-3,-4,-6,-14,-2, -3,-4,-4,-5,-7,-16,-4, -5,-6,-7,-8,-9,-16,-17,
  -19,-21,-45,-23,-25,-55,-16, -13,-14,-30,-15,-16,-30,-11, -11,-12,-10,-13,-14,-24,-15, -20,-21,-20,-22,-23,-26,-22,
  -21,-22,-21,-23,-24,-28,-23, -22,-23,-22,-24,-25,-30,-24, -23,-54,-23,-25,-26,-30,-25, -24,-25,-24,-26,-27,-26,-26,
  -27,-28,-27,-29,-30,-38,-31, -33,-30,-52,-32,-33,-24,-30, -29,-30,-29,-45,-31,-15,-28, -27,-29,-29,-30,-31,-8,-26,
  -26,-26,-27,-28,-27,-14,-24, -26,-27,-28,-29,-28,-8,-25, -26,-27,-28,-29,-27,-5,-25, -28,-29,-30,-31,-29,4,-30,
  -34,-32,-31,-30,-28,3,-38, -30,-29,-28,-27,-26,5,-33, -32,-30,-28,-27,-26,7,-30, -30,-28,-27,-26,-25,8,-28,
  -26,-25,-24,-23,-21,10,-22, -21,-20,-19,-18,-17,8,-19, -19,-18,-17,-16,-15,0,-21, -20,-19,-18,-17,-16,-6,-19,
  -18,-17,-16,-15,-14,2,-17, -17,-15,-14,-13,-12,-2,-14, -15,-14,-13,-12,-13,
];
const WORK_RED = [
  2,1,0,-1,-3,-10,1, 1,0,-1,-2,-4,-12,-4, -10,-2,0,-1,-3,-10,0, -1,-2,-3,-4,-6,-14,-2,
  -2,-3,-4,-5,-7,-15,-3, -4,-5,-5,-6,-8,-16,-4, -5,-6,-6,-7,-9,-18,-6, -7,-8,-9,-10,-11,-18,-20,
  -22,-24,-50,-26,-28,-58,-19, -16,-17,-35,-18,-19,-35,-14, -14,-15,-13,-16,-17,-26,-18, -23,-24,-23,-25,-26,-30,-25,
  -24,-25,-24,-26,-27,-32,-26, -25,-26,-25,-27,-28,-34,-27, -26,-30,-26,-28,-29,-33,-28, -27,-28,-27,-29,-30,-30,-29,
  -30,-31,-30,-32,-33,-40,-34, -36,-33,-50,-35,-36,-28,-33, -32,-33,-32,-48,-34,-20,-38, -35,-36,-37,-38,-39,-12,-36,
  -34,-35,-36,-37,-36,-18,-33, -37,-38,-39,-40,-38,-14,-35, -36,-37,-38,-39,-37,-10,-34, -38,-39,-40,-41,-39,-2,-36,
  -40,-38,-37,-36,-34,-4,-42, -38,-36,-34,-32,-30,0,-36, -36,-34,-32,-31,-30,2,-35, -34,-32,-31,-30,-29,4,-32,
  -30,-29,-28,-27,-25,5,-30, -28,-27,-26,-25,-24,2,-26, -26,-25,-24,-23,-22,-5,-28, -27,-26,-25,-24,-23,-10,-26,
  -25,-24,-23,-22,-21,-4,-24, -23,-21,-20,-19,-18,-6,-20, -21,-20,-19,-18,-22,
];
const WORK_PEACH = [
  0,-1,-2,-3,-5,-12,-1, -1,-2,-3,-4,-6,-15,-8, -60,-4,-2,-3,-5,-14,-2, -3,-4,-5,-6,-8,-16,-4,
  -4,-5,-6,-7,-9,-18,-5, -6,-7,-7,-8,-10,-18,-6, -7,-8,-8,-9,-11,-20,-8, -9,-10,-11,-12,-13,-22,-24,
  -26,-28,-55,-30,-32,-65,-22, -19,-20,-38,-21,-22,-40,-17, -17,-18,-16,-19,-20,-30,-21, -26,-27,-26,-28,-29,-34,-28,
  -27,-28,-27,-29,-30,-36,-29, -28,-29,-28,-30,-31,-38,-30, -29,-33,-29,-31,-32,-36,-31, -30,-31,-30,-32,-33,-32,-32,
  -33,-34,-33,-35,-36,-44,-37, -39,-36,-60,-38,-39,-30,-36, -35,-36,-35,-50,-37,-22,-34, -33,-35,-35,-36,-37,-10,-34,
  -32,-33,-34,-35,-34,-15,-32, -34,-35,-36,-37,-36,-10,-33, -35,-36,-37,-38,-36,-6,-33, -38,-39,-40,-41,-39,0,-42,
  -46,-44,-42,-40,-38,-2,-54, -50,-46,-42,-38,-35,6,-55, -52,-47,-42,-38,-35,8,-50, -47,-43,-40,-37,-35,10,-42,
  -38,-35,-32,-30,-28,12,-30, -28,-27,-26,-25,-24,10,-27, -27,-26,-25,-24,-23,-2,-30, -28,-42,-26,-25,-24,-8,-27,
  -26,-25,-24,-23,-22,0,-25, -24,-22,-21,-20,-19,-4,-22, -22,-21,-20,-19,-20,
];
const WORK_GREEN = [
  6,5,4,3,1,-10,5, 5,4,3,2,0,-14,-3, -8,2,4,3,1,-12,4, 3,2,1,0,-2,-16,2,
  2,1,0,-1,-3,-18,1, 0,-1,-1,-2,-4,-20,0, -1,-2,-2,-3,-5,-30,-2, -3,-4,-5,-6,-7,-20,-15,
  -16,-18,-40,-20,-22,-50,-12, -10,-48,-30,-12,-13,-40,-8, -9,-10,-8,-11,-12,-30,-13, -18,-19,-18,-20,-21,-44,-20,
  -19,-20,-19,-21,-22,-45,-21, -20,-21,-20,-22,-23,-50,-22, -21,-28,-21,-23,-24,-48,-23, -22,-23,-22,-24,-25,-48,-24,
  -25,-26,-25,-27,-28,-76,-35, -30,-28,-80,-30,-31,-35,-28, -27,-28,-27,-72,-29,-30,-26, -25,-27,-27,-28,-29,-35,-24,
  -23,-24,-25,-26,-25,-30,-22, -24,-25,-26,-27,-26,-25,-23, -24,-25,-26,-27,-25,-20,-23, -26,-27,-28,-29,-27,-15,-30,
  -32,-30,-29,-28,-26,-12,-35, -33,-31,-30,-28,-27,-10,-63, -64,-66,-66,-65,-66,-20,-68, -68,-67,-66,-66,-65,-25,-58,
  -55,-52,-47,-45,-31,-10,-28, -24,-23,-22,-21,-20,5,-22, -22,-21,-20,-19,-18,-2,-24, -23,-22,-21,-20,-19,-8,-22,
  -21,-20,-19,-18,-17,0,-20, -17,-65,-17,-16,-15,-4,-17, -18,-17,-16,-15,-16,
];
const WORK_LIGHTBLUE = [
  6,5,3,3,0,-9,5, 5,4,2,2,-1,-12,-2, -14,1,4,3,0,-8,4, 3,2,0,0,-3,-14,2,
  2,0,0,-2,-4,-16,1, 0,-1,-3,-2,-5,-14,0, -1,-3,-2,-4,-6,-18,-2, -3,-4,-6,-6,-8,-17,-18,
  -20,-22,-48,-24,-26,-62,-17, -14,-15,-32,-16,-17,-45,-12, -12,-13,-11,-14,-15,-28,-16, -21,-22,-20,-23,-24,-30,-23,
  -22,-23,-22,-24,-25,-31,-24, -23,-24,-23,-25,-26,-33,-25, -24,-34,-24,-26,-27,-32,-26, -25,-26,-25,-27,-28,-28,-27,
  -28,-29,-28,-30,-31,-45,-33, -35,-31,-60,-33,-34,-26,-31, -30,-31,-30,-55,-32,-18,-30, -29,-31,-31,-32,-33,-10,-29,
  -28,-29,-30,-31,-30,-14,-27, -30,-31,-32,-33,-31,-10,-28, -30,-31,-32,-33,-31,-6,-28, -32,-33,-34,-35,-33,2,-34,
  -38,-36,-35,-34,-32,0,-45, -42,-39,-36,-33,-31,4,-50, -46,-42,-38,-35,-33,6,-44, -41,-38,-35,-33,-31,8,-38,
  -33,-31,-29,-27,-25,8,-27, -25,-24,-23,-22,-21,6,-23, -23,-22,-21,-20,-19,-2,-25, -24,-23,-22,-21,-20,-8,-23,
  -22,-21,-20,-19,-18,0,-21, -20,-19,-18,-17,-16,-4,-18, -19,-18,-17,-16,-17,
];
const WORK_LAVENDER = [
  8,6,6,4,2,-7,6, 7,5,5,3,1,-9,-1, -6,3,5,4,2,-6,5, 4,3,1,1,-1,-11,3,
  3,1,1,-1,-2,-13,2, 1,0,-1,-1,-3,-12,1, 0,-2,-1,-3,-4,-14,-1, -2,-3,-4,-5,-6,-14,-13,
  -14,-16,-40,-18,-20,-50,-11, -9,-10,-28,-11,-12,-32,-7, -7,-8,-6,-9,-10,-22,-11, -16,-17,-16,-18,-19,-22,-18,
  -17,-18,-17,-19,-20,-24,-19, -18,-19,-18,-20,-21,-27,-20, -19,-24,-19,-21,-22,-26,-21, -20,-21,-20,-22,-23,-20,-22,
  -23,-24,-23,-25,-26,-32,-28, -28,-26,-48,-28,-29,-18,-26, -25,-26,-25,-44,-27,-8,-24, -23,-25,-25,-26,-27,0,-22,
  -21,-22,-23,-24,-23,-4,-20, -22,-23,-24,-25,-24,0,-21, -22,-23,-24,-25,-23,2,-21, -24,-25,-26,-27,-25,10,-24,
  -29,-27,-26,-25,-23,10,-33, -32,-29,-27,-25,-23,14,-35, -35,-32,-29,-27,-25,14,-34, -32,-29,-27,-25,-23,18,-30,
  -25,-23,-21,-20,-18,16,-20, -18,-17,-16,-15,-14,12,-16, -16,-15,-14,-13,-12,6,-18, -17,-16,-15,-14,-13,0,-16,
  -15,-14,-13,-12,-11,6,-14, -14,-12,-11,-10,-9,0,-11, -12,-11,-10,-9,-10,
];

const RETAIL_Y_GRID = [-75, -50, -25, 0, 25, 50, 75];
const TRANSIT_Y_GRID = [-50, 0, 50, 100, 150, 200];
const WORK_Y_GRID = [-90, -75, -60, -45, -30, -15, 0, 15, 30];

type Series = { color: string; values: (number | null)[] };
type PanelCfg = {
  name: string;
  min: number;
  max: number;
  grid: number[];
  labelEvery: number;
  top: number;
  height: number;
  series: Series[];
};

const PANELS: PanelCfg[] = [
  {
    name: "Retail and Recreation", min: -79.2, max: 99.5, grid: RETAIL_Y_GRID, labelEvery: 50, top: 7, height: 158,
    series: [
      { color: COLORS.red, values: RETAIL_RED },
      { color: COLORS.orange, values: RETAIL_ORANGE },
      { color: COLORS.pink, values: RETAIL_PINK },
      { color: COLORS.purple, values: RETAIL_PURPLE },
      { color: COLORS.yellow, values: RETAIL_YELLOW },
      { color: COLORS.peach, values: RETAIL_PEACH },
      { color: COLORS.lightblue, values: RETAIL_LIGHTBLUE },
      { color: COLORS.green, values: RETAIL_GREEN },
      { color: COLORS.gray, values: RETAIL_GRAY },
      { color: COLORS.lavender, values: RETAIL_LAVENDER },
    ],
  },
  {
    name: "Transit Stations", min: -91.5, max: 241, grid: TRANSIT_Y_GRID, labelEvery: 100, top: 176, height: 160,
    series: [
      { color: COLORS.pink, values: TRANSIT_PINK },
      { color: COLORS.lightblue, values: TRANSIT_LIGHTBLUE },
      { color: COLORS.yellow, values: TRANSIT_YELLOW },
      { color: COLORS.purple, values: TRANSIT_PURPLE },
      { color: COLORS.gray, values: TRANSIT_GRAY },
      { color: COLORS.cadet, values: TRANSIT_CADET },
      { color: COLORS.peach, values: TRANSIT_PEACH },
      { color: COLORS.lavender, values: TRANSIT_LAVENDER },
      { color: COLORS.lightgreen, values: TRANSIT_LIGHTGREEN },
      { color: COLORS.green, values: TRANSIT_GREEN },
    ],
  },
  {
    name: "Workplaces", min: -91.5, max: 32.6, grid: WORK_Y_GRID, labelEvery: 30, top: 346, height: 160,
    series: [
      { color: COLORS.pink, values: WORK_PINK },
      { color: COLORS.peach, values: WORK_PEACH },
      { color: COLORS.green, values: WORK_GREEN },
      { color: COLORS.red, values: WORK_RED },
      { color: COLORS.orange, values: WORK_ORANGE },
      { color: COLORS.yellow, values: WORK_YELLOW },
      { color: COLORS.lightblue, values: WORK_LIGHTBLUE },
      { color: COLORS.purple, values: WORK_PURPLE },
      { color: COLORS.lavender, values: WORK_LAVENDER },
      { color: COLORS.gray, values: WORK_GRAY },
    ],
  },
];

const FONT = '"Liberation Sans", Arial, Helvetica, sans-serif';
const TEXT_COLOR = "#3b3b4f";
const GRID_MAJOR = "#c5c5cb";
const GRID_MINOR = "#d5d5da";
const PLOT_LEFT = 73;
const CANVAS_W = 1100;

const decor = {
  id: "decor",
  afterDatasetsDraw(chart: any) {
    const { ctx, chartArea: a, scales } = chart;
    const y0 = scales.y.getPixelForValue(0);
    ctx.save();
    ctx.beginPath();
    ctx.rect(a.left, a.top, a.right - a.left, a.bottom - a.top);
    ctx.clip();
    ctx.strokeStyle = "rgba(250,110,110,0.95)";
    ctx.lineWidth = 2;
    ctx.setLineDash([9, 6]);
    ctx.beginPath();
    ctx.moveTo(a.left, y0);
    ctx.lineTo(a.right, y0);
    ctx.stroke();
    ctx.restore();
    ctx.save();
    ctx.strokeStyle = "#4d4d65";
    ctx.lineWidth = 1.6;
    ctx.strokeRect(a.left, a.top, a.right - a.left, a.bottom - a.top);
    ctx.restore();
  },
};

function makeConfig(p: PanelCfg, padTop: number, padBottom: number, showX: boolean): any {
  const xTicks = [...MINOR_DAYS, ...MONTH_DAYS].sort((a, b) => a - b);
  return {
    type: "line",
    data: {
      datasets: p.series.map((s) => ({
        data: DAY_INDEX.map((d) => ({ x: d, y: s.values[d] })),
        borderColor: s.color,
        borderWidth: 1.6,
        pointRadius: 0,
        tension: 0,
        fill: false,
        spanGaps: false,
      })),
    },
    options: {
      animation: false,
      responsive: false,
      devicePixelRatio: 1,
      events: [],
      layout: { padding: { top: padTop, bottom: padBottom, left: 0, right: 1 } },
      plugins: { legend: { display: false }, tooltip: { enabled: false } },
      scales: {
        x: {
          type: "linear",
          min: X_MIN,
          max: X_MAX,
          afterBuildTicks: (scale: any) => {
            scale.ticks = xTicks.map((v) => ({ value: v }));
          },
          afterFit: (scale: any) => {
            scale.height = showX ? 30 : 0;
            scale.paddingLeft = 0;
            scale.paddingRight = 0;
          },
          border: { display: false },
          grid: {
            drawTicks: false,
            color: (c: any) => (MONTH_DAYS.includes(c.tick?.value) ? GRID_MAJOR : GRID_MINOR),
            lineWidth: (c: any) => (MONTH_DAYS.includes(c.tick?.value) ? 1.3 : 1),
          },
          ticks: {
            display: showX,
            autoSkip: false,
            maxRotation: 0,
            padding: 7,
            color: TEXT_COLOR,
            font: { family: FONT, size: 17 },
            callback: (v: number) => {
              const i = MONTH_DAYS.indexOf(v);
              return i >= 0 ? MONTH_LABELS[i] : "";
            },
          },
        },
        y: {
          type: "linear",
          min: p.min,
          max: p.max,
          afterBuildTicks: (scale: any) => {
            scale.ticks = p.grid.map((v) => ({ value: v }));
          },
          afterFit: (scale: any) => {
            scale.width = PLOT_LEFT;
            scale.paddingTop = 0;
            scale.paddingBottom = 0;
          },
          border: { display: false },
          grid: {
            drawTicks: false,
            color: (c: any) => (c.tick && c.tick.value % p.labelEvery === 0 ? GRID_MAJOR : GRID_MINOR),
            lineWidth: (c: any) => (c.tick && c.tick.value % p.labelEvery === 0 ? 1.3 : 1),
          },
          ticks: {
            padding: 8,
            color: TEXT_COLOR,
            font: { family: FONT, size: 16 },
            callback: (v: number) => (v % p.labelEvery === 0 ? String(v) : ""),
          },
        },
      },
    },
    plugins: [decor],
  };
}

const LAYOUT = [
  { canvasTop: 0, canvasH: 175, padTop: 7, padBottom: 10 },
  { canvasTop: 166, canvasH: 180, padTop: 10, padBottom: 10 },
  { canvasTop: 336, canvasH: 218, padTop: 10, padBottom: 18 },
];

export default function App() {
  const refs = useRef<(HTMLCanvasElement | null)[]>([]);

  useEffect(() => {
    const charts = PANELS.map((p, i) => {
      const c = refs.current[i] as HTMLCanvasElement;
      return new Chart(c, makeConfig(p, LAYOUT[i].padTop, LAYOUT[i].padBottom, i === 2));
    });
    return () => charts.forEach((ch) => ch.destroy());
  }, []);

  return (
    <div
      style={{
        position: "absolute",
        left: 0,
        top: 0,
        width: 1126,
        height: 554,
        background: "#fbfbfd",
        overflow: "hidden",
        fontFamily: FONT,
        color: TEXT_COLOR,
      }}
    >
      {PANELS.map((p, i) => (
        <canvas
          key={p.name}
          ref={(el) => {
            refs.current[i] = el;
          }}
          width={CANVAS_W}
          height={LAYOUT[i].canvasH}
          style={{ position: "absolute", left: 0, top: LAYOUT[i].canvasTop, width: CANVAS_W, height: LAYOUT[i].canvasH }}
        />
      ))}
      {PANELS.map((p) => (
        <div
          key={"strip-" + p.name}
          style={{
            position: "absolute",
            left: 1100,
            top: p.top,
            width: 26,
            height: p.height,
            background: "#d9d9dc",
            display: "flex",
            alignItems: "center",
            justifyContent: "center",
          }}
        >
          <span style={{ writingMode: "vertical-rl", fontSize: 15.5, whiteSpace: "nowrap", color: TEXT_COLOR }}>{p.name}</span>
        </div>
      ))}
      <div
        style={{
          position: "absolute",
          left: 19,
          top: 256,
          transform: "translate(-50%, -50%) rotate(-90deg)",
          fontSize: 21,
          whiteSpace: "nowrap",
        }}
      >
        Residuals
      </div>
      <div
        style={{
          position: "absolute",
          left: 587,
          top: 543,
          transform: "translate(-50%, -50%)",
          fontSize: 21,
          whiteSpace: "nowrap",
        }}
      >
        Date
      </div>
    </div>
  );
}
